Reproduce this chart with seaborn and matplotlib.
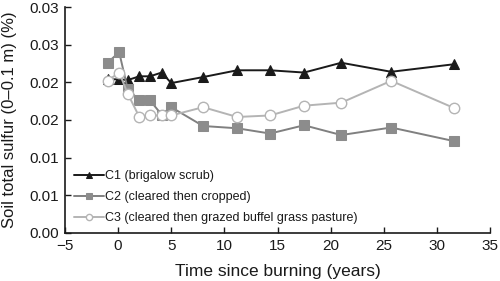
import matplotlib
matplotlib.use("Agg")
import matplotlib.pyplot as plt
import seaborn as sns
import numpy as np

years = [-1, 0.1, 0.9, 2, 3, 4.1, 5, 8, 11.2, 14.3, 17.5, 21, 25.7, 31.6]
c1 = [0.0204, 0.0204, 0.0203, 0.0208, 0.0208, 0.0213, 0.0199, 0.0207, 0.0216,
      0.0216, 0.0213, 0.0226, 0.0214, 0.0224]
c2 = [0.0226, 0.0240, 0.0191, 0.0176, 0.0176, 0.0157, 0.0167, 0.0142, 0.0139,
      0.0132, 0.0143, 0.0130, 0.0140, 0.0122]
c3 = [0.0202, 0.0213, 0.0185, 0.0154, 0.0156, 0.0156, 0.0156, 0.0167, 0.0154,
      0.0156, 0.0169, 0.0173, 0.0202, 0.0166]
labels = ["C1 (brigalow scrub)", "C2 (cleared then cropped)",
          "C3 (cleared then grazed buffel grass pasture)"]
yticks = [0.0, 0.005, 0.01, 0.015, 0.02, 0.025, 0.03]
yticklabels = ["0.00", "0.01", "0.01", "0.02", "0.02", "0.03", "0.03"]
xticks = [-5, 0, 5, 10, 15, 20, 25, 30, 35]

sns.set_style("white")
plt.rcParams["font.family"] = ["Liberation Sans", "DejaVu Sans"]

fig = plt.figure(figsize=(5, 2.81), dpi=100)
ax = fig.add_axes([0.13, 0.171, 0.85, 0.804])

sns.lineplot(x=years, y=c1, ax=ax, color="#1a1a1a", marker="^", markersize=7,
             markeredgecolor="#1a1a1a", linewidth=1.4, label=labels[0])
sns.lineplot(x=years, y=c2, ax=ax, color="#808080", marker="s", markersize=7,
             markerfacecolor="#8c8c8c", markeredgecolor="#8c8c8c",
             linewidth=1.4, label=labels[1])
sns.lineplot(x=years, y=c3, ax=ax, color="#b4b4b4", marker="o", markersize=7.5,
             markerfacecolor="white", markeredgecolor="#b4b4b4",
             markeredgewidth=1.0, linewidth=1.4, label=labels[2])

ax.set_xlim(-5, 35)
ax.set_ylim(0, 0.03)
ax.set_xticks(xticks)
ax.set_xticklabels(["\u22125" if t == -5 else str(t) for t in xticks], fontsize=11)
ax.set_yticks(yticks)
ax.set_yticklabels(yticklabels, fontsize=11)
ax.tick_params(direction="in", length=4, width=1, left=True, bottom=True,
               colors="#1a1a1a", pad=4)
for s in ["top", "right"]:
    ax.spines[s].set_visible(False)
for s in ["left", "bottom"]:
    ax.spines[s].set_color("#1a1a1a")
    ax.spines[s].set_linewidth(1.2)

ax.set_xlabel("Time since burning (years)", fontsize=12.5, color="#1a1a1a", labelpad=8)
ax.set_ylabel("Soil total sulfur (0\u20130.1 m) (%)", fontsize=12, color="#1a1a1a",
              labelpad=9)

leg = ax.legend(loc="lower left", bbox_to_anchor=(0.0, 0.0), frameon=False,
                fontsize=9, handlelength=2.4, handletextpad=0.1,
                labelspacing=0.72, markerscale=0.6, borderaxespad=0.3)
for t in leg.get_texts():
    t.set_color("#1a1a1a")

fig.savefig("out.png", dpi=100)
